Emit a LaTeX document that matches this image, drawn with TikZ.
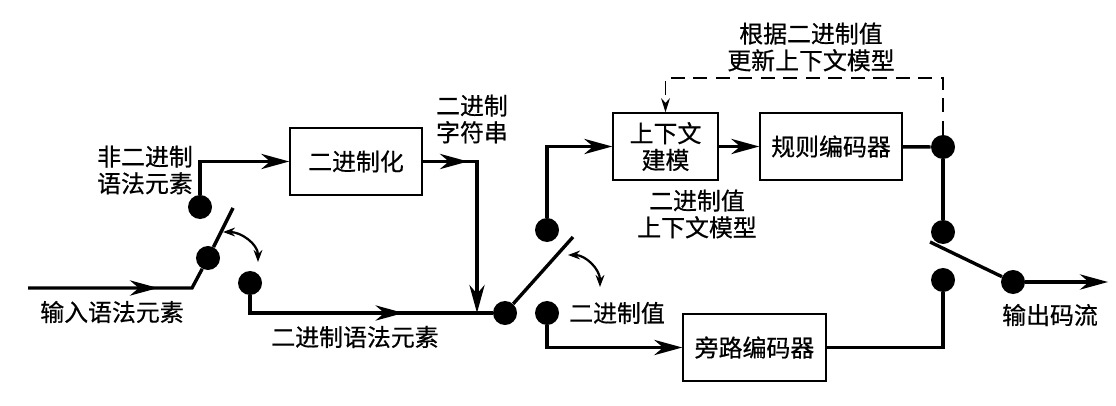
\documentclass[tikz,border=0pt]{standalone}
\usepackage{fontspec}
\setmainfont{Noto Sans CJK SC}[FakeBold=0.6]
\usetikzlibrary{arrows.meta, decorations.markings}

\begin{document}
\begin{tikzpicture}[
    x=0.025cm, y=-0.025cm,
    font=\fontsize{17}{19}\selectfont,
    box/.style={rectangle, draw=black, line width=1pt, minimum height=1.675cm, align=center, inner sep=2pt},
    dot/.style={circle, fill=black, minimum size=0.6cm, inner sep=0pt},
    txt/.style={align=center, inner sep=0pt},
    wire/.style={line width=2.4pt},
    arrow/.style={wire, -{Stealth[length=0.7cm, width=0.38cm, inset=0.22cm]}},
    midarrow/.style={wire, postaction={decorate}, decoration={markings, mark=at position #1 with {\arrow{Stealth[length=0.7cm, width=0.38cm, inset=0.22cm]}}}},
    swing/.style={line width=1.6pt, {Stealth[length=0.3cm, width=0.22cm]}-{Stealth[length=0.3cm, width=0.22cm]}},
    feedback/.style={line width=1.3pt, dash pattern=on 10pt off 6pt, -{Stealth[length=0.35cm, width=0.22cm]}}
]
\useasboundingbox (0,0) rectangle (1116,406);

\node[box, minimum width=3.3cm] (bin) at (356,161.5) {二进制化};
\node[box, minimum width=2.625cm] (ctx) at (665.5,146.5) {上下文\\建模};
\node[box, minimum width=3.55cm] (rule) at (831,146.5) {规则编码器};
\node[box, minimum width=3.575cm] (byp) at (754.5,347.5) {旁路编码器};

\node[dot] (s1a) at (200,207) {};
\node[dot] (s1c) at (208,258) {};
\node[dot] (s1b) at (250,283) {};
\node[dot] (s2c) at (505,313) {};
\node[dot] (s2a) at (547,230) {};
\node[dot] (s2b) at (547,313) {};
\node[dot] (r1) at (943,147) {};
\node[dot] (r2) at (943,232) {};
\node[dot] (r3) at (943,280) {};
\node[dot] (out) at (1013,282) {};

\coordinate (in) at (28,288);
\coordinate (ink) at (192,288);
\coordinate (lev1) at (233,208);
\coordinate (join) at (477,313);
\coordinate (lev2) at (573,237);
\coordinate (fb) at (943,78);
\coordinate (lev3) at (930,242);
\coordinate (outend) at (1108,282);
\coordinate (sw1a) at (223,232);
\coordinate (sw1b) at (258,262);
\coordinate (sw2a) at (568,255);
\coordinate (sw2b) at (600,287);

\node[txt] (nonbin) at (145,170) {非二进制\\语法元素};
\node[txt] (inlbl) at (112,312) {输入语法元素};
\node[txt] (binsyn) at (355,337) {二进制语法元素};
\node[txt] (binstr) at (472,119) {二进制\\字符串};
\node[txt] (binval) at (617,313) {二进制值};
\node[txt] (ctxlbl) at (697,214) {二进制值\\上下文模型};
\node[txt] (update) at (811,47) {根据二进制值\\更新上下文模型};
\node[txt] (outlbl) at (1050,315) {输出码流};

\draw[midarrow=0.7] (in) -- (ink) -- (s1c);
\draw[wire] (s1c) -- (lev1);
\draw[arrow] (s1a) |- (bin.west);
\draw[swing] (sw1a) to[out=0, in=90] (sw1b);
\draw[midarrow=0.7] (s1b) |- (join);
\draw[midarrow=0.22, arrow] (bin.east) -| (join);
\draw[wire] (join) -- (s2c);
\draw[wire] (s2c) -- (lev2);
\draw[swing] (sw2a) to[out=0, in=90] (sw2b);
\draw[arrow] (s2a) |- (ctx.west);
\draw[arrow] (s2b) |- (byp.west);
\draw[arrow] (ctx) -- (rule);
\draw[wire] (rule) -- (r1);
\draw[feedback] (r1) -- (fb) -| (ctx.north);
\draw[wire] (r1) -- (r2);
\draw[wire] (lev3) -- (out);
\draw[wire] (byp.east) -| (r3);
\draw[arrow] (out) -- (outend);
\end{tikzpicture}
\end{document}
